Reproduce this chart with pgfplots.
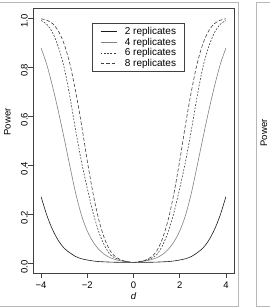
\documentclass[border=0pt]{standalone}
\usepackage{pgfplots}
\usepackage{pgfplotstable}
\usepackage{fontspec}
\setmainfont{Liberation Sans}
\pgfplotsset{compat=1.18}

% Power against effect size d for several numbers of replicates
\pgfplotstableread{
d      r2      r4      r6      r8
-4.00  0.271   0.877   0.989   0.996
-3.75  0.195   0.808   0.973   0.990
-3.50  0.136   0.719   0.939   0.976
-3.25  0.092   0.618   0.881   0.946
-3.00  0.061   0.508   0.797   0.893
-2.75  0.042   0.394   0.677   0.811
-2.50  0.027   0.284   0.540   0.698
-2.25  0.018   0.195   0.413   0.564
-2.00  0.013   0.131   0.305   0.417
-1.75  0.009   0.087   0.206   0.284
-1.50  0.0066  0.056   0.127   0.176
-1.25  0.0054  0.035   0.071   0.099
-1.00  0.0044  0.022   0.034   0.049
-0.75  0.0038  0.014   0.019   0.024
-0.50  0.0034  0.0087  0.0102  0.012
-0.25  0.0031  0.0054  0.0055  0.0059
 0.00  0.003   0.003   0.003   0.003
 0.25  0.0031  0.0054  0.0055  0.0059
 0.50  0.0034  0.0087  0.0102  0.012
 0.75  0.0038  0.014   0.019   0.024
 1.00  0.0044  0.022   0.034   0.049
 1.25  0.0054  0.035   0.071   0.099
 1.50  0.0066  0.056   0.127   0.176
 1.75  0.009   0.087   0.206   0.284
 2.00  0.013   0.131   0.305   0.417
 2.25  0.018   0.195   0.413   0.564
 2.50  0.027   0.284   0.540   0.698
 2.75  0.042   0.394   0.677   0.811
 3.00  0.061   0.508   0.797   0.893
 3.25  0.092   0.618   0.881   0.946
 3.50  0.136   0.719   0.939   0.976
 3.75  0.195   0.808   0.973   0.990
 4.00  0.271   0.877   0.989   0.996
}\powertable

\definecolor{framegray}{gray}{0.72}
\definecolor{boxgray}{gray}{0.25}

\begin{document}
\begin{tikzpicture}[font=\fontsize{9.5bp}{11bp}\selectfont]
\path[use as bounding box] (-33bp,-35bp) rectangle (237bp,273bp);
% panel frames
\draw[framegray, line width=0.8bp] (-34bp,271bp) -- (205bp,271bp) -- (205bp,-33bp) -- (-34bp,-33bp);
\draw[framegray, line width=0.8bp] (238bp,271bp) -- (223bp,271bp) -- (223bp,-33bp) -- (238bp,-33bp);
\node[rotate=90, inner sep=0pt] at (231bp,140bp) {Power};
\node[rotate=90, inner sep=0pt] at (-25.5bp,151bp) {Power};
\node[inner sep=0pt] at (100.5bp,-23bp) {\itshape d};

\begin{axis}[
  at={(0bp,0bp)}, anchor=south west,
  scale only axis, width=201bp, height=265bp,
  xmin=-4.35, xmax=4.35, ymin=-0.04, ymax=1.04,
  axis line style={boxgray, line width=0.6bp},
  tick style={boxgray, line width=0.6bp},
  tick align=outside, major tick length=5bp,
  xtick pos=bottom, ytick pos=left,
  xtick={-4,-2,0,2,4},
  xticklabels={−4,−2,0,2,4},
  ytick={0,0.2,0.4,0.6,0.8,1.0},
  yticklabels={0.0,0.2,0.4,0.6,0.8,1.0},
  xticklabel style={inner sep=0pt, anchor=north, yshift=-4bp},
  yticklabel style={inner sep=0pt, rotate=90, anchor=south, xshift=-3.5bp},
  legend cell align=left,
  legend style={at={(rel axis cs:0.2935,0.943)}, anchor=north west,
    draw=boxgray, line width=0.6bp, inner xsep=8bp, inner ysep=4bp,
    row sep=1.8bp, font=\fontsize{10bp}{12bp}\selectfont,
    nodes={inner sep=0pt},
    /tikz/every odd column/.append style={column sep=8bp}},
  legend image code/.code={\draw[#1] (0bp,0bp) -- (16bp,0bp);},
]
\addplot[black!90, line width=0.6bp, smooth] table[x=d, y=r2] {\powertable};
\addlegendentry{2 replicates}
\addplot[black!50, line width=0.6bp, smooth] table[x=d, y=r4] {\powertable};
\addlegendentry{4 replicates}
\addplot[black!75, line width=0.6bp, smooth, dash pattern=on 1.8bp off 1.5bp] table[x=d, y=r6] {\powertable};
\addlegendentry{6 replicates}
\addplot[black!75, line width=0.6bp, smooth, dash pattern=on 3.5bp off 2bp] table[x=d, y=r8] {\powertable};
\addlegendentry{8 replicates}
\end{axis}
\end{tikzpicture}
\end{document}
